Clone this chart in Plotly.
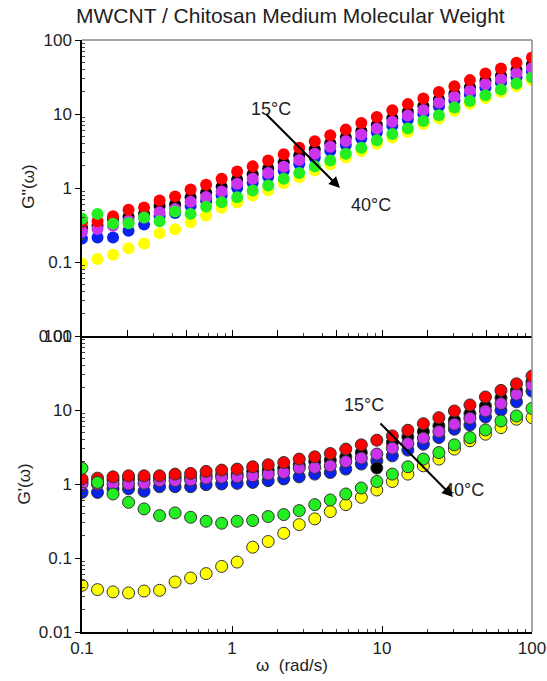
import plotly.graph_objects as go
from plotly.subplots import make_subplots

# angular frequency (rad/s)
omega = [0.1, 0.1269, 0.161, 0.2043, 0.2593, 0.329, 0.4175, 0.5298, 0.6723, 0.8531,
         1.0826, 1.3738, 1.7433, 2.2122, 2.8072, 3.5622, 4.5204, 5.7362, 7.279, 9.2367,
         11.721, 14.874, 18.874, 23.95, 30.392, 38.566, 48.939, 62.102, 78.805, 100.0]

# G''(omega) - loss modulus (top panel)
red_top = [0.344, 0.355, 0.415, 0.51, 0.544, 0.68, 0.77, 0.955, 1.11, 1.33, 1.67, 1.96, 2.36, 2.85, 3.51,
           4.27, 5.15, 6.15, 7.56, 9.12, 11.2, 13.6, 16.2, 19.9, 23.8, 28.7, 35.3, 41.3, 49.2, 58.2]
black_top = [0.29, 0.31, 0.38, 0.41, 0.447, 0.57, 0.60, 0.745, 0.866, 1.04, 1.30, 1.53, 1.84, 2.22, 2.74,
             3.33, 4.02, 4.80, 5.90, 7.11, 8.74, 10.7, 12.8, 15.7, 18.8, 23.0, 28.2, 33.0, 39.4, 46.6]
magenta_top = [0.257, 0.28, 0.31, 0.36, 0.40, 0.47, 0.52, 0.65, 0.755, 0.90, 1.14, 1.33, 1.60, 1.94, 2.39,
               2.90, 3.61, 4.31, 5.29, 6.38, 7.84, 9.52, 11.3, 14.3, 17.1, 20.7, 25.4, 29.7, 35.4, 41.9]
blue_top = [0.207, 0.215, 0.215, 0.265, 0.32, 0.42, 0.46, 0.573, 0.666, 0.80, 1.00, 1.18, 1.42, 1.71, 2.11,
            2.56, 3.19, 3.81, 4.69, 5.65, 6.94, 8.43, 10.0, 12.7, 15.2, 18.4, 22.6, 26.4, 31.5, 37.2]
green_top = [0.385, 0.447, 0.33, 0.333, 0.40, 0.355, 0.48, 0.447, 0.56, 0.64, 0.75, 0.925, 1.08, 1.33, 1.59,
             1.96, 2.36, 2.91, 3.51, 4.41, 5.37, 6.35, 8.05, 9.62, 12.2, 15.0, 17.9, 21.5, 25.9, 31.2]
yellow_top = [0.095, 0.11, 0.125, 0.153, 0.178, 0.244, 0.276, 0.344, 0.424, 0.54, 0.64, 0.79, 0.93, 1.16, 1.40,
              1.72, 2.10, 2.59, 3.16, 3.97, 4.83, 5.72, 7.33, 8.75, 11.1, 13.8, 16.5, 19.8, 23.8, 28.7]

# G'(omega) - storage modulus (bottom panel)
red_bot = [1.17, 1.20, 1.25, 1.29, 1.29, 1.29, 1.36, 1.39, 1.48, 1.54, 1.59, 1.71, 1.82, 1.95, 2.17,
           2.33, 2.58, 2.96, 3.38, 3.91, 4.47, 5.33, 6.54, 7.88, 9.70, 11.7, 15.0, 18.4, 22.6, 28.7]
black_bot = [1.08, 1.02, 1.13, 1.17, 1.17, 1.20, 1.23, 1.23, 1.29, 1.33, 1.36, 1.48, 1.54, 1.64, 1.80,
             2.01, 2.10, 2.33, 2.66, 1.64, 3.63, 4.33, 5.11, 6.09, 7.27, 8.92, 11.3, 14.6, 18.4, 24.0]
magenta_bot = [1.0, 1.0, 1.0, 1.0, 1.02, 1.11, 1.11, 1.13, 1.20, 1.23, 1.25, 1.29, 1.36, 1.43, 1.64,
               1.67, 1.76, 2.01, 2.24, 2.54, 3.05, 3.52, 4.16, 5.11, 6.42, 7.73, 9.70, 12.2, 16.3, 21.7]
blue_bot = [0.77, 0.77, 0.86, 0.86, 0.80, 0.92, 0.92, 0.92, 0.98, 1.0, 1.02, 1.05, 1.11, 1.17, 1.25,
            1.36, 1.43, 1.59, 1.86, 2.06, 2.40, 2.87, 3.45, 4.24, 5.50, 6.28, 8.05, 9.91, 12.9, 18.0]
green_bot = [1.63, 1.05, 0.733, 0.565, 0.461, 0.374, 0.407, 0.355, 0.314, 0.295, 0.314, 0.321, 0.363, 0.386, 0.437,
             0.526, 0.609, 0.733, 0.883, 1.08, 1.36, 1.71, 2.17, 2.66, 3.38, 4.24, 5.38, 7.11, 8.30, 10.5]
yellow_bot = [0.0428, 0.0374, 0.0348, 0.0337, 0.0358, 0.0366, 0.0474, 0.0537, 0.0615, 0.077, 0.0881, 0.140, 0.167, 0.216, 0.283,
              0.338, 0.424, 0.526, 0.66, 0.83, 1.08, 1.36, 1.76, 2.17, 2.96, 3.83, 4.71, 5.78, 7.50, 7.88]

y_tickvals = [0.01, 0.1, 1, 10, 100]
y_ticktext = ["0.01", "0.1", "1", "10", "100"]
x_tickvals = [0.1, 1, 10, 100]
x_ticktext = ["0.1", "1", "10", "100"]

colors = {"yellow": "#FFFF00", "blue": "#0A22F0", "black": "#000000",
          "magenta": "#CC33EE", "red": "#FF0000", "green": "#22EE22"}

top_series = [("yellow", yellow_top), ("blue", blue_top), ("black", black_top),
              ("magenta", magenta_top), ("red", red_top), ("green", green_top)]
bot_series = [("yellow", yellow_bot), ("blue", blue_bot), ("black", black_bot),
              ("magenta", magenta_bot), ("red", red_bot), ("green", green_bot)]

fig = make_subplots(rows=2, cols=1, shared_xaxes=False, vertical_spacing=0)

for name, vals in top_series:
    fig.add_trace(go.Scatter(x=omega, y=vals, mode="markers", name=name,
                             marker=dict(size=12, color=colors[name], line=dict(width=0))),
                  row=1, col=1)
for name, vals in bot_series:
    fig.add_trace(go.Scatter(x=omega, y=vals, mode="markers", name=name,
                             marker=dict(size=12, color=colors[name],
                                         line=dict(width=1, color="#333333"))),
                  row=2, col=1)

font_family = "Arial, Liberation Sans, sans-serif"
tickfont = dict(family=font_family, size=17, color="#222222")

minor_y = [m * 10.0 ** k for k in range(-2, 2) for m in range(2, 10)]
minor_x = [m * 10.0 ** k for k in range(-1, 2) for m in range(2, 10)]

common_x = dict(type="log", range=[-1, 2], showgrid=False, zeroline=False, automargin=False,
                showline=True, linecolor="black", linewidth=1.5,
                ticks="inside", ticklen=6, tickcolor="black",
                minor=dict(tickvals=minor_x, ticks="inside", ticklen=3, tickcolor="#444444", showgrid=False))
common_y = dict(type="log", range=[-2, 2], showgrid=False, zeroline=False, automargin=False,
                showline=True, linecolor="black", linewidth=1.5,
                ticks="outside", ticklen=5, tickcolor="black",
                tickvals=y_tickvals, ticktext=y_ticktext, tickfont=tickfont,
                minor=dict(tickvals=minor_y, ticks="inside", ticklen=3, tickcolor="#444444", showgrid=False))

fig.update_xaxes(**common_x, showticklabels=False, row=1, col=1)
fig.update_xaxes(**common_x, tickvals=x_tickvals, ticktext=x_ticktext, tickfont=tickfont, row=2, col=1)
fig.update_yaxes(**common_y, domain=[0.5, 1.0], row=1, col=1)
fig.update_yaxes(**common_y, domain=[0.0, 0.5], row=2, col=1)

# gray frame on top and right
fig.add_shape(type="line", xref="paper", yref="paper", x0=0, x1=1, y0=1, y1=1,
              line=dict(color="#888888", width=1.5))
fig.add_shape(type="line", xref="paper", yref="paper", x0=1, x1=1, y0=0, y1=1,
              line=dict(color="#888888", width=1.5))

annots = []
annots.append(dict(text="MWCNT / Chitosan Medium Molecular Weight", xref="paper", yref="paper",
                   x=0.4644, y=1.042, showarrow=False, xanchor="center", yanchor="middle",
                   font=dict(family=font_family, size=21, color="#222222")))
annots.append(dict(text="G''(ω)", xref="paper", yref="paper", x=-0.118, y=0.752, textangle=-90,
                   showarrow=False, xanchor="center", yanchor="middle",
                   font=dict(family=font_family, size=17, color="#222222")))
annots.append(dict(text="G'(ω)", xref="paper", yref="paper", x=-0.128, y=0.25, textangle=-90,
                   showarrow=False, xanchor="center", yanchor="middle",
                   font=dict(family=font_family, size=17, color="#222222")))
annots.append(dict(text="ω  (rad/s)", xref="paper", yref="paper", x=0.4667, y=-0.056,
                   showarrow=False, xanchor="center", yanchor="middle",
                   font=dict(family=font_family, size=17, color="#222222")))

lab_font = dict(family=font_family, size=18, color="#222222")
# top panel temperature labels and arrow
annots.append(dict(text="15°C", xref="paper", yref="paper", x=0.42, y=0.9037, showarrow=False,
                   font=lab_font))
annots.append(dict(text="40°C", xref="paper", yref="paper", x=0.642, y=0.7416, showarrow=False,
                   font=lab_font))
annots.append(dict(text="", xref="paper", yref="paper", x=0.5733, y=0.75,
                   axref="pixel", ayref="pixel", ax=-75, ay=-75,
                   showarrow=True, arrowhead=2, arrowsize=1.1, arrowwidth=2, arrowcolor="black"))
# bottom panel temperature labels and arrow
annots.append(dict(text="15°C", xref="paper", yref="paper", x=0.6756, y=0.3834, showarrow=False,
                   font=lab_font))
annots.append(dict(text="40°C", xref="paper", yref="paper", x=0.8978, y=0.2196, showarrow=False,
                   font=lab_font))
annots.append(dict(text="", xref="paper", yref="paper", x=0.8244, y=0.228,
                   axref="pixel", ayref="pixel", ax=-74, ay=-75,
                   showarrow=True, arrowhead=2, arrowsize=1.1, arrowwidth=2, arrowcolor="black"))

fig.update_layout(
    width=547, height=681,
    margin=dict(l=82, r=15, t=40, b=49),
    paper_bgcolor="white", plot_bgcolor="white",
    showlegend=False,
    annotations=annots,
    font=dict(family=font_family),
)

fig.write_html("out.html")
